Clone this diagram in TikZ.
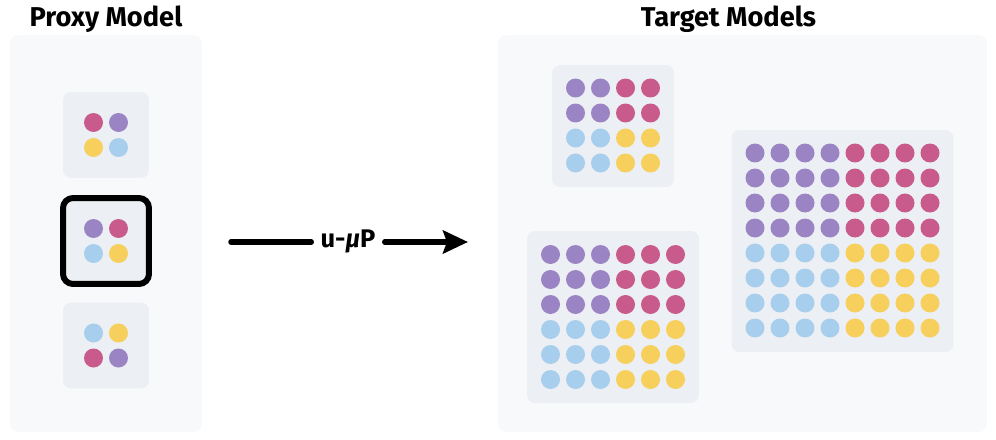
\documentclass[tikz,border=0pt]{standalone}
\usepackage{fontspec}
\setmainfont{Fira Sans}
\usetikzlibrary{arrows.meta}

\definecolor{dotpink}{HTML}{C85A8C}
\definecolor{dotpurple}{HTML}{9B84C4}
\definecolor{dotyellow}{HTML}{F6CF5C}
\definecolor{dotblue}{HTML}{A8CEEE}
\definecolor{panelbg}{HTML}{F8F9FB}
\definecolor{cellbg}{HTML}{ECEFF3}

% centre x, centre y, half size, colours top-left / top-right / bottom-left / bottom-right
\newcommand{\dotgrid}[7]{%
  \foreach \c in {1,...,#3}{
    \foreach \r in {1,...,#3}{
      \fill[#4] ({#1-(#3-\c+0.5)*25},{#2-(#3-\r+0.5)*25}) circle (0.19cm);
      \fill[#5] ({#1+(\c-0.5)*25},{#2-(#3-\r+0.5)*25}) circle (0.19cm);
      \fill[#6] ({#1-(#3-\c+0.5)*25},{#2+(\r-0.5)*25}) circle (0.19cm);
      \fill[#7] ({#1+(\c-0.5)*25},{#2+(\r-0.5)*25}) circle (0.19cm);
    }}}

\begin{document}
\begin{tikzpicture}[x=0.02cm, y=-0.02cm,
    panel/.style={rectangle, fill=panelbg, rounded corners=0.16cm, minimum width=#1, minimum height=7.94cm},
    cell/.style={rectangle, fill=cellbg, rounded corners=0.16cm, minimum size=#1},
    chosen/.style={draw=black, line width=0.12cm, rounded corners=0.2cm},
    title/.style={font=\fontsize{15.5}{18}\selectfont\bfseries, anchor=base},
    arrow/.style={line width=0.11cm, line cap=round}
]
\useasboundingbox (0,0) rectangle (996,439);

% Panels
\node[panel=3.84cm] (proxy) at (106,233.5) {};
\node[panel=9.78cm] (target) at (742.5,233.5) {};
\node[title] (proxytitle) at (106,27) {Proxy Model};
\node[title] (targettitle) at (728.5,27) {Target Models};

% Proxy cells
\node[cell=1.72cm] (proxyA) at (106,135) {};
\node[cell=1.72cm, chosen] (proxyB) at (106,241) {};
\node[cell=1.72cm] (proxyC) at (106,345.5) {};

% Target cells
\node[cell=2.44cm] (small) at (613,126) {};
\node[cell=3.44cm] (medium) at (613,317) {};
\node[cell=4.44cm] (large) at (842.5,241) {};

% Dots
\dotgrid{106}{135}{1}{dotpink}{dotpurple}{dotyellow}{dotblue}
\dotgrid{106}{241}{1}{dotpurple}{dotpink}{dotblue}{dotyellow}
\dotgrid{106}{345.5}{1}{dotblue}{dotyellow}{dotpink}{dotpurple}
\dotgrid{613}{125.5}{2}{dotpurple}{dotpink}{dotblue}{dotyellow}
\dotgrid{613}{317}{3}{dotpurple}{dotpink}{dotblue}{dotyellow}
\dotgrid{842.5}{240.5}{4}{dotpurple}{dotpink}{dotblue}{dotyellow}

% Arrow
\coordinate (from) at (231,242);
\coordinate (to) at (468,242);
\node[font=\fontsize{14.5}{16}\selectfont\bfseries, inner xsep=0.18cm, text height=0.22cm, text depth=0pt] (mup) at (348,242) {u-\textit{μ}P};
\draw[arrow] (from) -- (mup);
\draw[arrow, -{Stealth[length=0.5cm, width=0.46cm, inset=0.08cm]}] (mup) -- (to);

\end{tikzpicture}
\end{document}
